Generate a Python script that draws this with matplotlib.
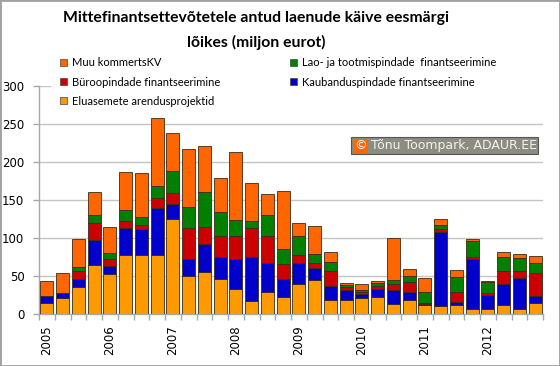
import matplotlib
matplotlib.use("Agg")
import matplotlib.pyplot as plt
from matplotlib.patches import Patch, Rectangle
import numpy as np

quarters = [f"{y}Q{q}" for y in range(2005, 2013) for q in range(1, 5)]
year_labels = ["2005", "2006", "2007", "2008", "2009", "2010", "2011", "2012"]
y_ticks = [0, 50, 100, 150, 200, 250, 300]

eluasemete = [15, 21, 36, 64, 52, 78, 78, 77, 125, 50, 55, 46, 33, 17, 29, 23,
              40, 45, 19, 18.5, 21, 22, 13, 18.4, 12, 11, 11.4, 7, 6.5, 12, 7, 14.5]
kaubandus = [9, 7, 10, 34, 11, 35, 34, 63, 20, 23, 37, 29, 39, 58, 38.5, 23.5,
             27, 15, 18.5, 12.5, 5, 11, 18, 10.6, 1, 97, 4.4, 65, 18, 27, 40, 9]
buroo = [0, 0, 11, 22, 9, 9, 5, 13, 14, 40, 23, 28, 31, 38, 35, 19.5,
         10, 7, 18.5, 4, 2.5, 4, 8.5, 12.6, 1, 4, 13.2, 3.5, 2.5, 17.5, 9.7, 31]
lao = [0, 0, 4.5, 10, 8, 15, 10, 15, 29, 28, 45, 31, 21, 10, 27.6, 20,
       25, 12, 12, 3.5, 2.5, 4, 5.5, 8.4, 15, 4.5, 19.7, 20, 14.5, 18.5, 17, 12.3]
muu = [19, 26, 37, 30, 35, 50, 59, 90, 50, 76.5, 61, 45, 89, 49, 28, 76,
       18, 37, 13.5, 2, 8.5, 3, 54.6, 9, 19, 8, 8.7, 3.4, 1.5, 6.5, 4.7, 9.7]

series = [
    ("Eluasemete arendusprojektid", eluasemete, "#FF9900"),
    ("Kaubanduspindade finantseerimine", kaubandus, "#0000CC"),
    ("Büroopindade finantseerimine", buroo, "#CC0000"),
    ("Lao- ja tootmispindade  finantseerimine", lao, "#008000"),
    ("Muu kommertsKV", muu, "#FF6600"),
]

fig = plt.figure(figsize=(5.6, 3.66), dpi=100)
fig.patch.set_facecolor("white")
W, H = 560, 366
ax = fig.add_axes([39 / W, 1 - 314 / H, (543 - 39) / W, (314 - 86) / H])

x = np.arange(len(quarters))
bottom = np.zeros(len(quarters))
handles = {}
for name, vals, col in series:
    v = np.array(vals, dtype=float)
    ax.bar(x, v, bottom=bottom, width=0.82, color=col, edgecolor="#3a2a1a",
           linewidth=0.6, zorder=3)
    bottom += v
    handles[name] = Patch(facecolor=col, edgecolor="#444444", linewidth=0.5)

ax.set_xlim(-0.5, len(quarters) - 0.5)
ax.set_ylim(0, 300)
ax.set_yticks(y_ticks)
for yt in y_ticks[1:]:
    if yt == y_ticks[-1]:
        ax.axhline(yt, xmin=0, xmax=0.022, color="#c4c4c4", linewidth=1.0, zorder=0)
    else:
        ax.axhline(yt, color="#c4c4c4", linewidth=1.0, zorder=0)
for s in ["top", "right"]:
    ax.spines[s].set_visible(False)
for s in ["left", "bottom"]:
    ax.spines[s].set_color("#a8a8a8")
    ax.spines[s].set_linewidth(1.0)

ax.set_xticks(np.arange(0, len(quarters), 4))
ax.set_xticklabels(year_labels, rotation=90, fontsize=8.5, family="DejaVu Sans")
ax.set_xticks(np.arange(-0.5, len(quarters), 1), minor=True)
ax.tick_params(axis="x", which="major", length=0, pad=8)
ax.tick_params(axis="x", which="minor", length=4, color="#a8a8a8", width=1)
ax.tick_params(axis="y", length=4.5, color="#a8a8a8", width=1, pad=6,
               labelsize=8.5)

# Title
fig.text(256 / W, 1 - 18 / H, "Mittefinantsettevõtetele antud laenude käive eesmärgi",
         ha="center", va="center", fontsize=11.3, fontweight="bold", family="Lato")
fig.text(256 / W, 1 - 42 / H, "lõikes (miljon eurot)",
         ha="center", va="center", fontsize=11.3, fontweight="bold", family="Lato")

# Legend (two columns)
legkw = dict(frameon=False, prop={"family": "Lato", "size": 8},
             handlelength=0.6, handleheight=0.6, handletextpad=0.45,
             labelspacing=0.75, borderpad=0.2, borderaxespad=0, loc="upper left")
col1 = ["Muu kommertsKV", "Büroopindade finantseerimine", "Eluasemete arendusprojektid"]
col2 = ["Lao- ja tootmispindade  finantseerimine", "Kaubanduspindade finantseerimine"]
l1 = fig.legend([handles[n] for n in col1], col1, bbox_to_anchor=(58 / W, 1 - 55 / H), **legkw)
l2 = fig.legend([handles[n] for n in col2], col2, bbox_to_anchor=(288 / W, 1 - 55 / H), **legkw)

# Watermark
fig.patches.append(Rectangle((351 / W, 1 - 154 / H), (538 - 351) / W, 17 / H,
                             transform=fig.transFigure, facecolor="#8c8c80",
                             edgecolor="#555555", linewidth=0.8, zorder=5))
fig.patches.append(Rectangle((353 / W, 1 - 152.5 / H), 15 / W, 14 / H,
                             transform=fig.transFigure, facecolor="#FF6600",
                             edgecolor="none", zorder=6))
fig.text(360.5 / W, 1 - 145.5 / H, "©", ha="center", va="center", color="white",
         fontsize=9, family="DejaVu Sans", zorder=7)
fig.text(371 / W, 1 - 145.5 / H, "Tõnu Toompark, ADAUR.EE", ha="left", va="center",
         color="#f2f2f2", fontsize=9, family="DejaVu Sans", zorder=7)

# Figure border
fig.patches.append(Rectangle((0, 0), 1, 1, transform=fig.transFigure, fill=False,
                             edgecolor="#a0a0a0", linewidth=2, zorder=10))

fig.savefig("out.png", dpi=100)
